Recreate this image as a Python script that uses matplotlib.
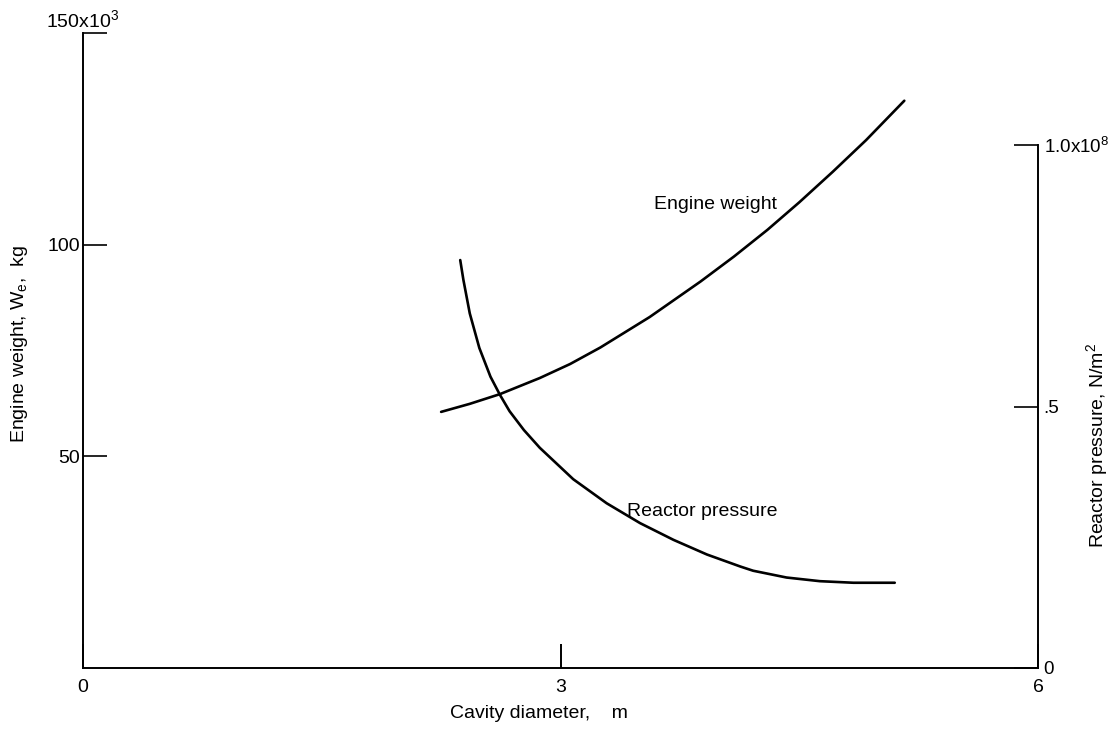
import matplotlib
matplotlib.use('Agg')
import matplotlib.pyplot as plt

plt.rcParams['font.family'] = ['Liberation Sans', 'DejaVu Sans']
plt.rcParams['mathtext.fontset'] = 'custom'
plt.rcParams['mathtext.rm'] = 'Liberation Sans'
plt.rcParams['mathtext.it'] = 'Liberation Sans'

# Engine weight, kg (left axis) vs cavity diameter, m
weight_d = [2.25, 2.43, 2.62, 2.87, 3.06, 3.25, 3.56, 3.88, 4.09, 4.30, 4.50, 4.71, 4.92, 5.16]
weight_kg = [60.5, 62.4, 64.7, 68.5, 71.8, 75.7, 82.9, 91.3, 97.2, 103.5, 110.0, 117.2, 124.7, 134.0]

# Reactor pressure, x1e8 N/m^2 (right axis) vs cavity diameter, m
press_d = [2.37, 2.39, 2.43, 2.49, 2.56, 2.62, 2.68, 2.77, 2.87, 3.08, 3.29, 3.50, 3.71,
           3.92, 4.13, 4.21, 4.42, 4.63, 4.84, 5.10]
press_val = [0.780, 0.742, 0.678, 0.612, 0.557, 0.522, 0.491, 0.455, 0.421, 0.361, 0.315,
             0.277, 0.245, 0.217, 0.194, 0.186, 0.173, 0.166, 0.163, 0.163]

x_ticks = [0, 3, 6]
left_ticks = [50, 100, 150]
right_ticks = [0, 0.5, 1.0]

W, H = 1116, 729
fig = plt.figure(figsize=(W / 100, H / 100), dpi=100)
ax = fig.add_axes([83 / W, (H - 668) / H, (1038 - 83) / W, (668 - 33) / H])

ax.plot(weight_d, weight_kg, color='black', lw=1.9, solid_capstyle='round',
        solid_joinstyle='round')
ax.set_xlim(0, 6)
ax.set_ylim(0, 150)
for s in ['top', 'right']:
    ax.spines[s].set_visible(False)
for s in ['left', 'bottom']:
    ax.spines[s].set_linewidth(1.4)

ax.set_xticks(x_ticks)
ax.set_xticklabels(['0', '3', '6'])
ax.set_yticks(left_ticks)
ax.set_yticklabels(['50', '100', ''])
ax.tick_params(axis='y', direction='in', length=17, width=1.2, pad=2, labelsize=14)
ax.tick_params(axis='x', direction='in', length=17, width=1.4, pad=8, labelsize=14)
ax.text(0, 150.5, '150x10$^3$', ha='center', va='bottom', fontsize=14)

ax2 = ax.twinx()
ax2.plot(press_d, press_val, color='black', lw=1.9, solid_capstyle='round',
         solid_joinstyle='round')
ax2.set_ylim(0, 1.0 * (668 - 33) / (668 - 145))
for s in ['top', 'left', 'bottom']:
    ax2.spines[s].set_visible(False)
ax2.spines['right'].set_bounds(0, 1.0)
ax2.spines['right'].set_linewidth(1.4)
ax2.set_yticks(right_ticks)
ax2.set_yticklabels(['0', '.5', '1.0x10$^8$'])
ax2.tick_params(axis='y', direction='in', length=17, width=1.2, pad=4, labelsize=13.5)

ax.text(3.59, 109.4, 'Engine weight', ha='left', va='center', fontsize=14)
ax.text(3.42, 36.9, 'Reactor pressure', ha='left', va='center', fontsize=14)

fig.text(539 / W, 1 - 713 / H, 'Cavity diameter,    m', ha='center', va='center', fontsize=14)
fig.text(20 / W, 1 - 344 / H, 'Engine weight, W$_e$,  kg', ha='center', va='center',
         rotation=90, fontsize=14)
fig.text(1097 / W, 1 - 445 / H, 'Reactor pressure, N/m$^2$', ha='center', va='center',
         rotation=90, fontsize=14)

fig.savefig('out.png', dpi=100)
